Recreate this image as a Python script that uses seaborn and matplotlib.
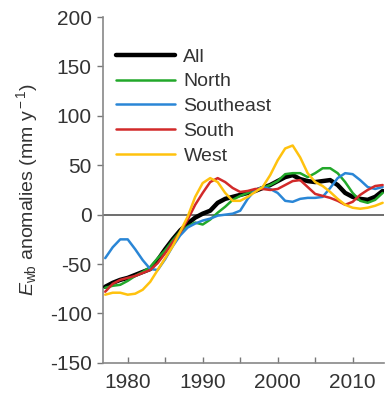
import matplotlib
matplotlib.use("Agg")
import matplotlib.pyplot as plt
import seaborn as sns
import pandas as pd
import numpy as np
from matplotlib.lines import Line2D

years = list(range(1977, 2015))
all_vals = [-73, -69, -66, -64, -61, -58, -55, -46, -35, -25, -16, -9, -3, 1, 4, 12, 16, 18, 20, 22,
            24, 27, 30, 34, 38, 40, 36, 34, 33, 34, 35, 30, 22, 18, 16, 15, 18, 24]
north = [-74, -72, -71, -67, -62, -58, -53, -44, -36, -26, -17, -12, -8, -10, -5, 2, 8, 15, 19, 22,
         25, 27, 30, 34, 41, 42, 42, 38, 42, 47, 47, 42, 33, 22, 14, 12, 15, 22]
southeast = [-44, -33, -25, -25, -35, -46, -55, -56, -45, -32, -21, -13, -9, -6, -4, -1, 0, 1, 4, 16,
             25, 28, 26, 22, 14, 13, 16, 17, 17, 18, 27, 37, 42, 41, 35, 28, 26, 28]
south = [-78, -70, -66, -64, -62, -59, -56, -49, -39, -28, -18, -5, 10, 22, 33, 37, 33, 27, 23, 24,
         26, 26, 25, 26, 30, 34, 35, 28, 21, 19, 17, 14, 10, 13, 20, 25, 29, 30]
west = [-81, -79, -79, -81, -80, -76, -68, -56, -44, -32, -17, -2, 18, 32, 37, 33, 22, 14, 14, 18,
        23, 28, 40, 55, 67, 70, 58, 42, 33, 29, 23, 16, 10, 7, 6, 7, 9, 12]

series_names = ["All", "North", "Southeast", "South", "West"]
series_vals = [all_vals, north, southeast, south, west]
colors = ["#000000", "#22a82a", "#2a86d6", "#d22a2a", "#ffc20e"]
yticks = [-150, -100, -50, 0, 50, 100, 150, 200]
xticks = [1980, 1990, 2000, 2010]

df = pd.concat([pd.DataFrame({"year": years, "value": v, "region": n})
                for n, v in zip(series_names, series_vals)], ignore_index=True)

sns.set_style("ticks")
plt.rcParams["font.family"] = ["Liberation Sans", "DejaVu Sans"]
plt.rcParams["axes.unicode_minus"] = False
plt.rcParams["mathtext.fontset"] = "custom"
plt.rcParams["mathtext.rm"] = "Liberation Sans"
plt.rcParams["mathtext.it"] = "Liberation Sans:italic"

fig = plt.figure(figsize=(3.9, 3.97), dpi=100)
ax = fig.add_axes([0.264, 0.086, 0.721, 0.871])

ax.axhline(0, color="#555555", lw=1.2, zorder=1)
sns.lineplot(data=df, x="year", y="value", hue="region", hue_order=series_names,
             palette=dict(zip(series_names, colors)), ax=ax, legend=False, zorder=3)
for line, name in zip(ax.get_lines()[1:], series_names):
    line.set_linewidth(3.2 if name == "All" else 1.8)
    line.set_solid_capstyle("round")

ax.set_xlim(1976.7, 2014.2)
ax.set_ylim(-150, 200)
ax.set_yticks(yticks)
ax.set_xticks(xticks)
ax.set_xticks(list(range(1980, 2015, 5)), minor=True)
ax.tick_params(axis="y", direction="out", length=4, width=1, colors="#777777",
               labelcolor="#333333", labelsize=15, pad=4)
ax.tick_params(axis="x", which="both", direction="in", length=4, width=1, colors="#777777",
               labelcolor="#333333", labelsize=15, pad=7)
for s in ["top", "right"]:
    ax.spines[s].set_visible(False)
for s in ["left", "bottom"]:
    ax.spines[s].set_color("#888888")
    ax.spines[s].set_linewidth(1.2)
ax.set_xlabel("")
ax.set_ylabel(r"$\it{E}_{\rm wb}$ anomalies (mm y$^{\rm -1}$)", fontsize=14, color="#333333",
              labelpad=7)

handles = [Line2D([0], [0], color=c, lw=(3.2 if n == "All" else 1.8)) for n, c in zip(series_names, colors)]
leg = ax.legend(handles, series_names, loc="upper left", bbox_to_anchor=(0.02, 0.933), frameon=False,
                fontsize=14, handlelength=3.0, handletextpad=0.45, labelspacing=0.37,
                borderaxespad=0)
for t in leg.get_texts():
    t.set_color("#333333")

fig.savefig("out.png", dpi=100)
